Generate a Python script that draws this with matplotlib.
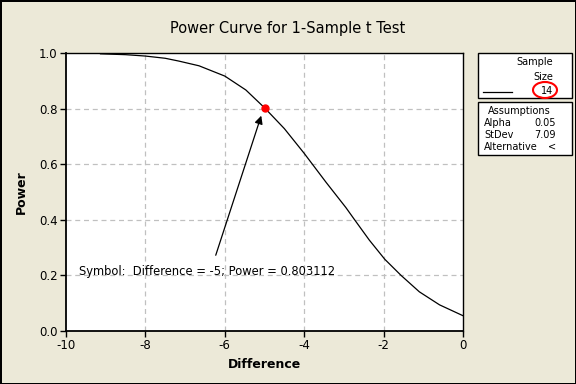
import matplotlib
matplotlib.use('Agg')
import matplotlib.pyplot as plt
from matplotlib.patches import Rectangle, Ellipse

# Values
difference = [-9.13, -8.5, -8.0, -7.5, -7.16, -6.65, -6.0, -5.47, -5.0, -4.5,
              -4.0, -3.45, -2.95, -2.74, -2.36, -1.97, -1.56, -1.1, -0.59, 0.0]
power = [0.997, 0.994, 0.989, 0.981, 0.971, 0.954, 0.917, 0.867, 0.803, 0.728,
         0.639, 0.535, 0.444, 0.402, 0.327, 0.258, 0.200, 0.141, 0.094, 0.055]

point_diff = -5
point_power = 0.803112

x_ticks = [-10, -8, -6, -4, -2, 0]
y_ticks = [0.0, 0.2, 0.4, 0.6, 0.8, 1.0]

sample_size = '14'
assumptions = [('Alpha', '0.05'), ('StDev', '7.09'), ('Alternative', '<')]

W, H = 576, 384
bg = '#ECE9D8'

plt.rcParams['font.family'] = 'DejaVu Sans'

fig = plt.figure(figsize=(W / 100, H / 100), dpi=100, facecolor=bg,
                 edgecolor='black', linewidth=1)


# helper: pixel coords (from top-left) to figure fraction
def fx(px):
    return px / W


def fy(py):
    return 1 - py / H


ax = fig.add_axes([fx(66), fy(331), fx(463) - fx(66), fy(53) - fy(331)])
ax.set_facecolor('white')

ax.plot(difference, power, color='black', lw=0.9)
ax.plot([point_diff], [point_power], 'o', color='red', ms=5, zorder=5)

ax.set_xlim(-10, 0)
ax.set_ylim(0, 1)
ax.set_xticks(x_ticks)
ax.set_yticks(y_ticks)
ax.set_xticklabels([str(t) for t in x_ticks])
ax.set_yticklabels(['%.1f' % t for t in y_ticks])
ax.tick_params(direction='out', length=4, width=1, labelsize=8.5, pad=2)

for g in x_ticks[1:-1]:
    ax.axvline(g, color='#C0C0C0', lw=0.9, ls=(0, (4, 3)), zorder=0)
for g in y_ticks[1:-1]:
    ax.axhline(g, color='#C0C0C0', lw=0.9, ls=(0, (4, 3)), zorder=0)

for s in ['left', 'bottom']:
    ax.spines[s].set_linewidth(1.3)
for s in ['top', 'right']:
    ax.spines[s].set_linewidth(1.0)

ax.set_xlabel('Difference', fontsize=9, fontweight='bold', labelpad=4)
ax.set_ylabel('Power', fontsize=9, fontweight='bold', labelpad=8)

ax.annotate('', xy=(-5.06, 0.784), xytext=(-6.25, 0.263),
            arrowprops=dict(arrowstyle='-|>', color='black', lw=0.9,
                            mutation_scale=12))
ax.text(-9.68, 0.215, 'Symbol:  Difference = -5; Power = 0.803112',
        fontsize=8.3, va='center', ha='left')

fig.text(0.5, fy(28), 'Power Curve for 1-Sample t Test', ha='center',
         va='center', fontsize=10.5)

# legend boxes on the right
box1 = Rectangle((fx(478), fy(98)), fx(572) - fx(478), fy(53) - fy(98),
                 transform=fig.transFigure, facecolor='white',
                 edgecolor='black', lw=1)
box2 = Rectangle((fx(478), fy(155)), fx(572) - fx(478), fy(102) - fy(155),
                 transform=fig.transFigure, facecolor='white',
                 edgecolor='black', lw=1)
fig.patches.extend([box1, box2])

fig.text(fx(553), fy(62), 'Sample', ha='right', va='center', fontsize=7)
fig.text(fx(553), fy(77), 'Size', ha='right', va='center', fontsize=7)
fig.text(fx(553), fy(90.5), sample_size, ha='right', va='center', fontsize=7)
fig.lines.append(plt.Line2D([fx(483), fx(512)], [fy(91.5), fy(91.5)],
                            transform=fig.transFigure, color='black', lw=0.9))
ring = Ellipse((fx(545), fy(90)), fx(24), 16 / H, transform=fig.transFigure,
               facecolor='none', edgecolor='red', lw=1.5)
fig.patches.append(ring)

fig.text(fx(519), fy(111), 'Assumptions', ha='center', va='center', fontsize=7)
for i, (name, val) in enumerate(assumptions):
    yy = fy(123.5 + i * 11.5)
    fig.text(fx(484), yy, name, ha='left', va='center', fontsize=7)
    fig.text(fx(556), yy, val, ha='right', va='center', fontsize=7)

fig.savefig('out.png', dpi=100, facecolor=bg, edgecolor='black')
